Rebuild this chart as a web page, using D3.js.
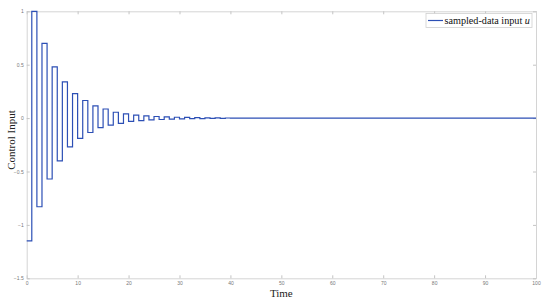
<!DOCTYPE html>
<html>
<head>
<meta charset="utf-8">
<script src="https://cdn.jsdelivr.net/npm/d3@7"></script>
<style>
body { margin: 0; background: #fff; }
.tick text { font-family: "Liberation Sans", Arial, sans-serif; font-size: 5px; fill: #777; }
.axis-label { font-family: "Liberation Serif", "DejaVu Serif", serif; font-size: 11px; fill: #222; }
.legend-text { font-family: "Liberation Serif", "DejaVu Serif", serif; font-size: 10.2px; fill: #111; }
</style>
</head>
<body>
<script>
//hardcoded parameters
var svg_width = 550;
var svg_height = 302;
var plot = {left: 26.7, right: 536, top: 11.3, bottom: 278.3};

//data: sample instants and held control values
var time = [0, 1, 2, 3, 4, 5, 6, 7, 8, 9,
            10, 11, 12, 13, 14, 15, 16, 17, 18, 19,
            20, 21, 22, 23, 24, 25, 26, 27, 28, 29,
            30, 31, 32, 33, 34, 35, 36, 37, 38, 39,
            40, 100];
var u = [-1.15, 1.00, -0.83, 0.70, -0.57, 0.48, -0.40, 0.34, -0.27, 0.23,
         -0.19, 0.165, -0.135, 0.115, -0.09, 0.085, -0.065, 0.055, -0.05, 0.04,
         -0.03, 0.028, -0.024, 0.02, -0.017, 0.015, -0.013, 0.011, -0.009, 0.008,
         -0.007, 0.006, -0.005, 0.004, -0.004, 0.003, -0.003, 0.002, -0.002, 0.001,
         0, 0];
var x_ticks = [0, 10, 20, 30, 40, 50, 60, 70, 80, 90, 100];
var y_ticks = [-1.5, -1, -0.5, 0, 0.5, 1];
var series_name = 'sampled-data input ';

var svg = d3.select('body').append('svg')
    .attr('width', svg_width)
    .attr('height', svg_height);

//scales
var scale_x = d3.scaleLinear().domain([0, 100]).range([plot.left, plot.right]);
var scale_y = d3.scaleLinear().domain([-1.5, 1]).range([plot.bottom, plot.top]);

var axis_col = '#d4d4d4';

//axes (matlab style, ticks pointing inward)
var ax_b = svg.append('g').attr('transform', 'translate(0,' + plot.bottom + ')')
    .call(d3.axisBottom(scale_x).tickValues(x_ticks).tickSizeInner(-3).tickSizeOuter(0).tickPadding(3).tickFormat(d3.format('d')));
var ax_t = svg.append('g').attr('transform', 'translate(0,' + plot.top + ')')
    .call(d3.axisTop(scale_x).tickValues(x_ticks).tickSizeInner(-3).tickSizeOuter(0).tickFormat(''));
var ax_l = svg.append('g').attr('transform', 'translate(' + plot.left + ',0)')
    .call(d3.axisLeft(scale_y).tickValues(y_ticks).tickSizeInner(-3).tickSizeOuter(0).tickPadding(3).tickFormat(d3.format('')));
var ax_r = svg.append('g').attr('transform', 'translate(' + plot.right + ',0)')
    .call(d3.axisRight(scale_y).tickValues(y_ticks).tickSizeInner(-3).tickSizeOuter(0).tickFormat(''));
[ax_b, ax_t, ax_l, ax_r].forEach(function(a) {
    a.select('.domain').attr('stroke', axis_col);
    a.selectAll('.tick line').attr('stroke', '#c4c4c4');
});

//data line
var pts = time.map(function(t, i) { return [t, u[i]]; });
var line = d3.line()
    .x(function(d) { return scale_x(d[0]); })
    .y(function(d) { return scale_y(d[1]); })
    .curve(d3.curveStepAfter);
svg.append('path')
    .datum(pts)
    .attr('d', line)
    .attr('fill', 'none')
    .attr('stroke', '#2c4fb5')
    .attr('stroke-width', 1.2);

//axis labels
svg.append('text')
    .attr('class', 'axis-label')
    .attr('text-anchor', 'middle')
    .attr('x', (plot.left + plot.right) / 2)
    .attr('y', 296.5)
    .text('Time');
svg.append('text')
    .attr('class', 'axis-label')
    .attr('text-anchor', 'middle')
    .attr('transform', 'translate(15,140) rotate(-90)')
    .text('Control Input');

//legend
var key = svg.append('g').attr('transform', 'translate(426,13.5)');
key.append('rect')
    .attr('width', 106).attr('height', 14)
    .attr('fill', '#fff').attr('stroke', '#d0d0d0').attr('stroke-width', 0.8);
key.append('line')
    .attr('x1', 2).attr('x2', 17).attr('y1', 7).attr('y2', 7)
    .attr('stroke', '#2c4fb5').attr('stroke-width', 1.2);
var lt = key.append('text')
    .attr('class', 'legend-text')
    .attr('x', 18.5).attr('y', 10.5);
lt.append('tspan').text(series_name);
lt.append('tspan').attr('font-style', 'italic').text('u');
</script>
</body>
</html>
